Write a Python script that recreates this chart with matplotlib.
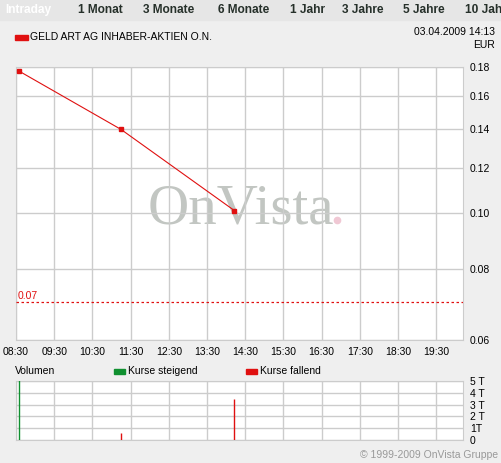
import matplotlib.pyplot as plt
from matplotlib.ticker import FixedLocator, NullLocator

plt.rcParams['font.family'] = ['Liberation Sans', 'DejaVu Sans']

# data (time in minutes after midnight)
times = ["08:35", "11:15", "14:13"]
prices = [0.177, 0.140, 0.101]
volumes = [6000, 560, 3450]
rising = [True, False, False]

hour_labels = ["08:30", "09:30", "10:30", "11:30", "12:30", "13:30",
               "14:30", "15:30", "16:30", "17:30", "18:30", "19:30"]
price_ticks = [0.06, 0.08, 0.10, 0.12, 0.14, 0.16, 0.18]
vol_ticks = [0, 1000, 2000, 3000, 4000, 5000]
vol_labels = ["0", "1T", "2 T", "3 T", "4 T", "5 T"]
tabs = ["Intraday", "1 Monat", "3 Monate", "6 Monate", "1 Jahr", "3 Jahre", "5 Jahre", "10 Jah"]
tab_x = [5, 78, 143, 218, 290, 342, 403, 465]
ref_level = 0.07


def to_min(s):
    h, m = s.split(":")
    return int(h) * 60 + int(m)


x = [to_min(t) for t in times]
hour_x = [to_min(h) for h in hour_labels]
xmin, xmax = to_min("08:30"), to_min("20:12")

W, H = 502, 463
bg = "#efefef"
grid = "#cccccc"
red = "#e01010"
green = "#109030"

fig = plt.figure(figsize=(W / 100, H / 100), dpi=100, facecolor=bg)


def fx(px):
    return px / W


def fy(py):
    return 1 - py / H


# tab bar
fig.patches.append(plt.Rectangle((0, fy(20)), 1, 20 / H, transform=fig.transFigure,
                                 color="#e6e6e6", zorder=0))
for i, t in enumerate(tabs):
    fig.text(fx(tab_x[i]), fy(10), t, fontsize=8.6, fontweight="bold",
             color="white" if i == 0 else "#26302a", va="center", ha="left")

# header
fig.patches.append(plt.Rectangle((fx(15), fy(40)), 13 / W, 5 / H, transform=fig.transFigure,
                                 color=red))
fig.text(fx(30), fy(37.5), "GELD ART AG INHABER-AKTIEN O.N.", fontsize=7.5, va="center")
fig.text(fx(495), fy(32), "03.04.2009 14:13", fontsize=7.5, va="center", ha="right")
fig.text(fx(495), fy(45), "EUR", fontsize=7.5, va="center", ha="right")

# main price chart
ax = fig.add_axes([fx(16), fy(340), fx(463) - fx(16), fy(67) - fy(340)])
ax.set_facecolor("white")
ax.set_yscale("log")
ax.set_ylim(0.06, 0.18)
ax.set_xlim(xmin, xmax)
ax.yaxis.set_major_locator(FixedLocator(price_ticks))
ax.yaxis.set_minor_locator(NullLocator())
ax.set_yticklabels(["%.2f" % v for v in price_ticks])
ax.yaxis.tick_right()
ax.set_xticks(hour_x)
ax.set_xticklabels(hour_labels)
ax.tick_params(length=0, labelsize=7.5, pad=5)
ax.grid(True, color=grid, lw=1)
for s in ax.spines.values():
    s.set_color(grid)

ax.text(0.503, 0.425, "OnVista", transform=ax.transAxes, fontsize=41,
        family="Liberation Serif", color="#c2c6c2", ha="center", va="baseline", zorder=1)
ax.plot([0.718], [0.44], "o", transform=ax.transAxes, ms=4.5, color="#f0c8d4", zorder=1)

ax.plot(x, prices, color=red, lw=0.8, marker="s", ms=3.5, zorder=3)
ax.axhline(ref_level, color=red, lw=0.9, ls=(0, (2, 2)), zorder=3)
ax.text(xmin + 2, ref_level * 1.004, "0.07", color=red, fontsize=7.5, va="bottom")

# legend row
fig.text(fx(15), fy(371), "Volumen", fontsize=7.5, va="center")
fig.patches.append(plt.Rectangle((fx(114), fy(374)), 11 / W, 5 / H, transform=fig.transFigure,
                                 color=green))
fig.text(fx(128), fy(371), "Kurse steigend", fontsize=7.5, va="center")
fig.patches.append(plt.Rectangle((fx(246), fy(374)), 11 / W, 5 / H, transform=fig.transFigure,
                                 color=red))
fig.text(fx(260), fy(371), "Kurse fallend", fontsize=7.5, va="center")

# volume chart
vx = fig.add_axes([fx(16), fy(440), fx(463) - fx(16), fy(381) - fy(440)])
vx.set_facecolor("white")
vx.set_xlim(xmin, xmax)
vx.set_ylim(0, 5000)
vx.set_xticks(hour_x)
vx.set_xticklabels([])
vx.set_yticks(vol_ticks)
vx.set_yticklabels(vol_labels)
vx.yaxis.tick_right()
vx.tick_params(length=0, labelsize=7.5, pad=5)
vx.grid(True, color=grid, lw=1)
for s in vx.spines.values():
    s.set_color(grid)
vx.vlines(x, 0, volumes, colors=[green if r else red for r in rising], lw=1, zorder=3)

fig.text(fx(498), fy(455), "\u00a9 1999-2009 OnVista Gruppe", fontsize=7.5,
         color="#999999", ha="right", va="center")

fig.savefig("out.png", dpi=100, facecolor=bg)
